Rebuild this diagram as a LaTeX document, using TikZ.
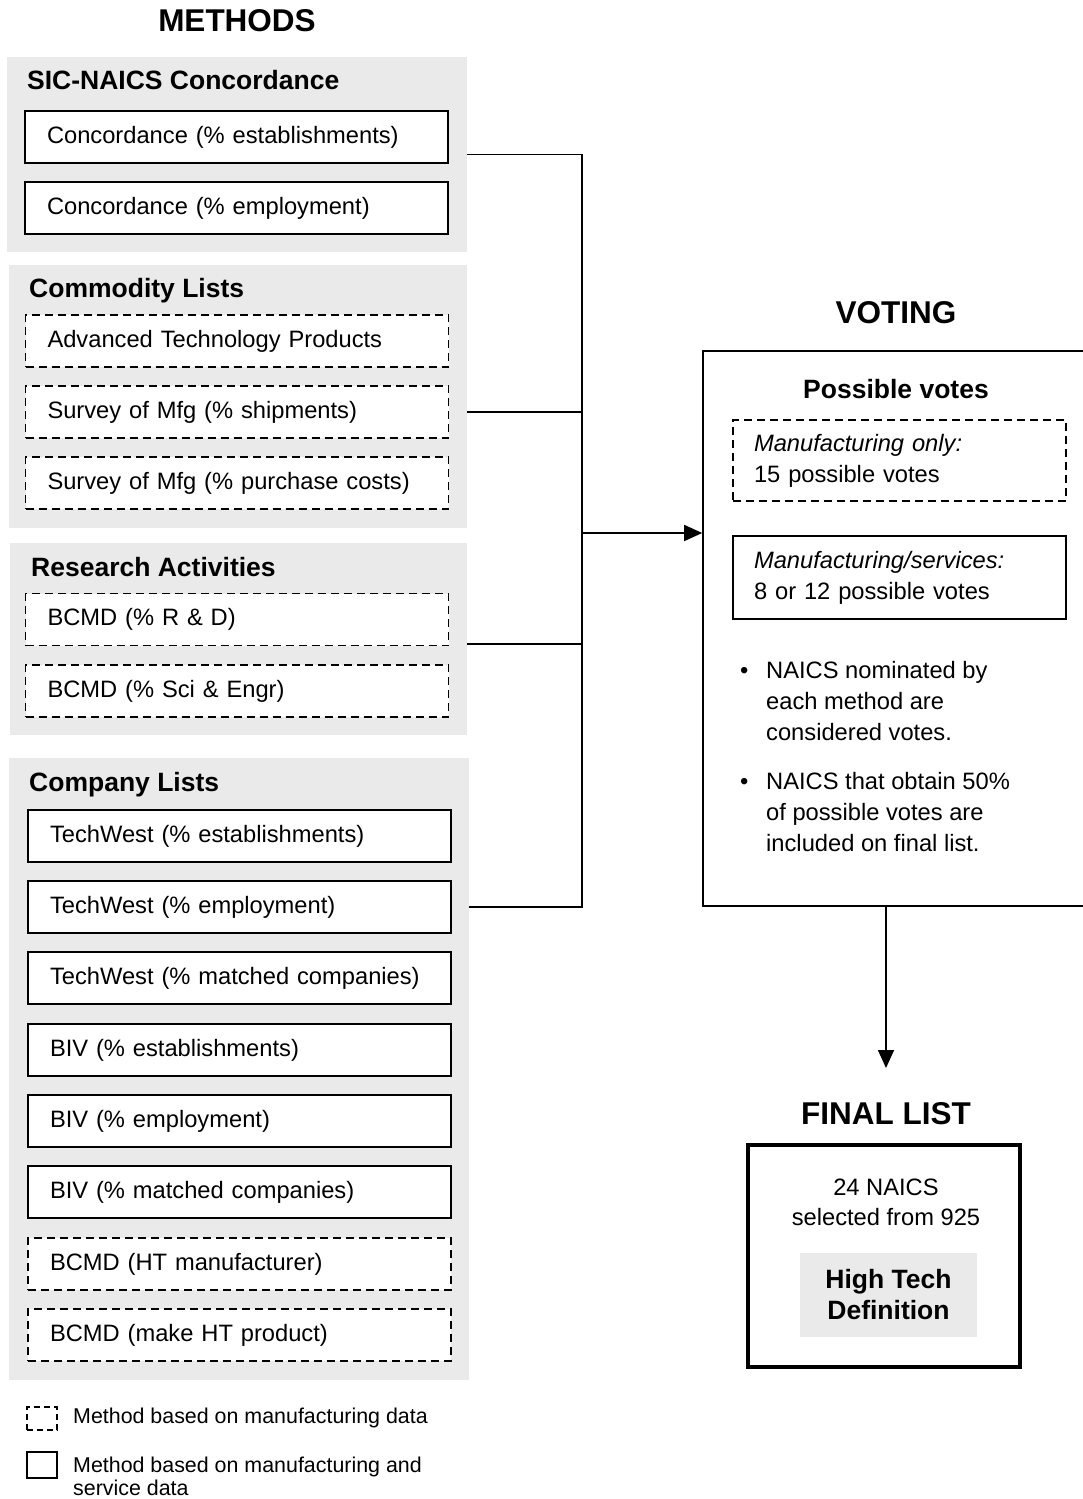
\documentclass[tikz,border=0pt]{standalone}
\usepackage{fontspec}
\setmainfont{Liberation Sans}
\usetikzlibrary{arrows.meta}
\definecolor{grp}{HTML}{EAEAEA}
\newcommand\fnorm{\fontsize{23.7}{31}\selectfont}
\newcommand\ftitle{\fontsize{26.5}{31}\selectfont\bfseries}
\newcommand\fhead{\fontsize{31.5}{36}\selectfont\bfseries}
\newcommand\flegend{\fontsize{21.4}{23}\selectfont}
\begin{document}
\begin{tikzpicture}[x=1pt,y=-1pt,
  grpbox/.style={fill=grp, draw=none, inner sep=0pt},
  mbox/.style={draw, line width=1.6pt, fill=white, minimum width=423pt, minimum height=52pt,
    text width=379pt, inner xsep=22pt, inner ysep=0pt, align=left, font=\fnorm},
  dbox/.style={mbox, dash pattern=on 8pt off 5pt},
  ttl/.style={anchor=base west, inner sep=0pt, font=\ftitle},
  hd/.style={anchor=base, inner sep=0pt, font=\fhead},
  conn/.style={line width=1.6pt},
  arr/.style={line width=1.6pt, -{Triangle[length=18pt,width=16pt]}}
]
\useasboundingbox (0,0) rectangle (1083,1499);

% headings
\node[hd] (hmeth) at (237,31) {METHODS};
\node[hd] (hvote) at (896,323) {VOTING};
\node[hd] (hfin) at (886,1124) {FINAL LIST};

% group backgrounds
\node[grpbox, minimum width=460pt, minimum height=195pt] (g1) at (237,154.5) {};
\node[grpbox, minimum width=458pt, minimum height=263pt] (g2) at (238,396.5) {};
\node[grpbox, minimum width=457pt, minimum height=192pt] (g3) at (238.5,639) {};
\node[grpbox, minimum width=460pt, minimum height=622pt] (g4) at (239,1069) {};

% group 1
\node[ttl] (t1) at (27,89.5) {SIC-NAICS Concordance};
\node[mbox] (a1) at (236.5,137) {Concordance (\% establishments)};
\node[mbox] (a2) at (236.5,208) {Concordance (\% employment)};

% group 2
\node[ttl] (t2) at (29,297.5) {Commodity Lists};
\node[dbox] (b1) at (237,341) {Advanced Technology Products};
\node[dbox] (b2) at (237,412) {Survey of Mfg (\% shipments)};
\node[dbox] (b3) at (237,483) {Survey of Mfg (\% purchase costs)};

% group 3
\node[ttl] (t3) at (31,576.5) {Research Activities};
\node[dbox] (r1) at (237,619.5) {BCMD (\% R \& D)};
\node[dbox] (r2) at (237,691) {BCMD (\% Sci \& Engr)};

% group 4
\node[ttl] (t4) at (29,791.5) {Company Lists};
\node[mbox] (c1) at (239.5,836) {TechWest (\% establishments)};
\node[mbox] (c2) at (239.5,907) {TechWest (\% employment)};
\node[mbox] (c3) at (239.5,978) {TechWest (\% matched companies)};
\node[mbox] (c4) at (239.5,1050) {BIV (\% establishments)};
\node[mbox] (c5) at (239.5,1121) {BIV (\% employment)};
\node[mbox] (c6) at (239.5,1192) {BIV (\% matched companies)};
\node[dbox] (c7) at (239.5,1264) {BCMD (HT manufacturer)};
\node[dbox] (c8) at (239.5,1335) {BCMD (make HT product)};

% legend
\node[draw, line width=1.6pt, dash pattern=on 6pt off 4pt, minimum width=30pt, minimum height=23pt, inner sep=0pt] (ld) at (42,1418.5) {};
\node[anchor=west, inner sep=0pt, font=\flegend] (ldt) at (73,1418) {Method based on manufacturing data};
\node[draw, line width=1.6pt, minimum width=30pt, minimum height=26pt, inner sep=0pt] (ls) at (42,1465) {};
\node[anchor=west, inner sep=0pt, font=\flegend, align=left] (lst) at (73,1476) {Method based on manufacturing and\\service data};

% voting box
\node[draw, line width=1.6pt, minimum width=387pt, minimum height=555pt, inner sep=0pt] (vote) at (896.5,628.5) {};
\node[anchor=base, inner sep=0pt, font=\ftitle] (pv) at (896,398.5) {Possible votes};
\node[draw, line width=1.6pt, dash pattern=on 8pt off 5pt, minimum width=333pt, minimum height=81pt,
  text width=291pt, inner xsep=21pt, inner ysep=0pt, align=left, font=\fnorm] (vm) at (899.5,460.5)
  {\itshape Manufacturing only:\\\upshape 15 possible votes};
\node[draw, line width=1.6pt, minimum width=333pt, minimum height=83pt,
  text width=291pt, inner xsep=21pt, inner ysep=0pt, align=left, font=\fnorm] (vs) at (899.5,577.5)
  {\itshape Manufacturing/services:\\\upshape 8 or 12 possible votes};
\node[anchor=base west, inner sep=0pt, font=\fnorm, align=left] (bl1) at (740,740)
  {\makebox[26pt][l]{•}NAICS nominated by\\\hspace*{26pt}each method are\\\hspace*{26pt}considered votes.};
\node[anchor=base west, inner sep=0pt, font=\fnorm, align=left] (bl2) at (740,851)
  {\makebox[26pt][l]{•}NAICS that obtain 50\%\\\hspace*{26pt}of possible votes are\\\hspace*{26pt}included on final list.};

% final list
\node[draw, line width=4pt, minimum width=272pt, minimum height=222pt, inner sep=0pt] (fin) at (884,1256) {};
\node[font=\fontsize{23.7}{30}\selectfont, align=center, inner sep=0pt] (fn) at (886,1202) {24 NAICS\\selected from 925};
\node[fill=grp, minimum width=177pt, minimum height=84pt, inner sep=0pt, align=center,
  font=\ftitle] (htd) at (888.5,1295) {High Tech\\Definition};

% connectors
\coordinate (j) at (582,533);
\coordinate (af) at (886,1068);
\draw[conn] (g1.east) -| (j);
\draw[conn] (b2 -| g2.east) -| (j);
\draw[conn] ([yshift=-5pt]g3.east) -| (j);
\draw[conn] (c2 -| g4.east) -| (j);
\draw[arr] (j) -- (j -| vote.west);
\draw[arr] (af |- vote.south) -- (af);
\end{tikzpicture}
\end{document}
